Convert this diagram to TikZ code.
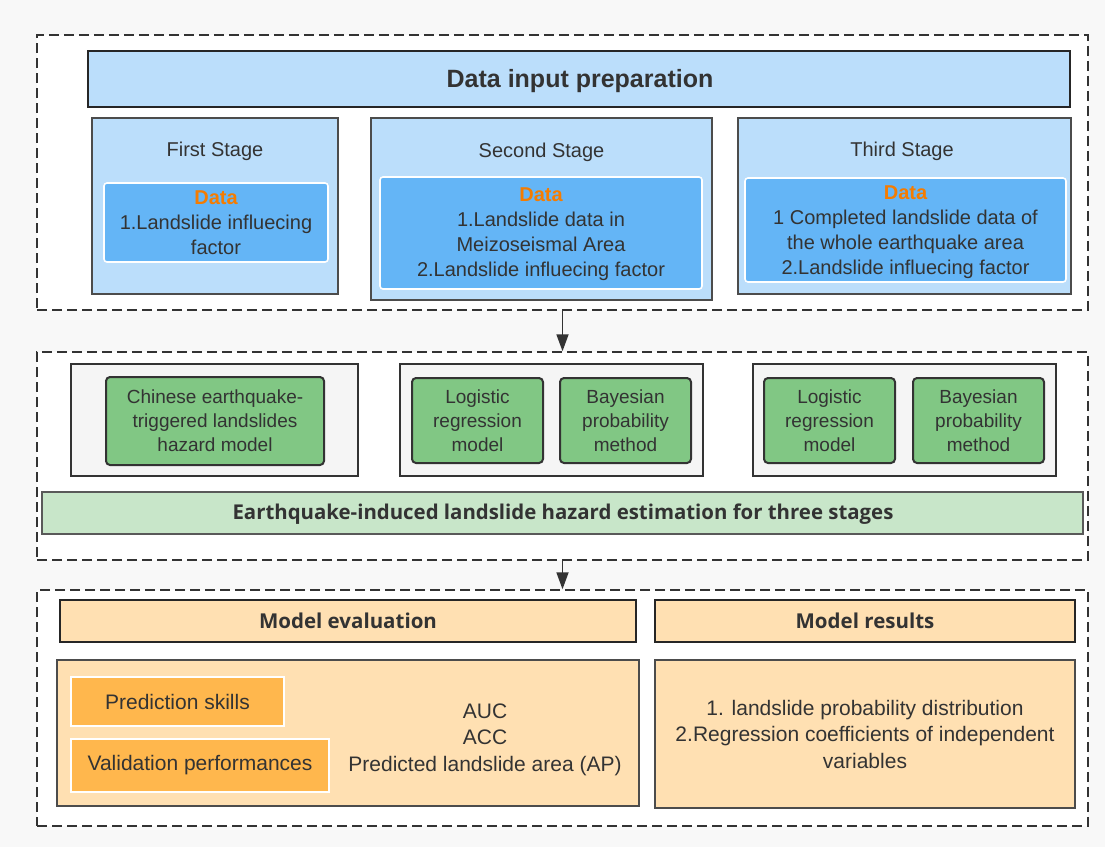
\documentclass[tikz,border=0pt]{standalone}
\usepackage{fontspec}
\setmainfont{Liberation Sans}
\newfontfamily\headfont{Open Sans}
\usetikzlibrary{arrows.meta}

\definecolor{txt}{HTML}{333333}
\definecolor{pagebg}{HTML}{F8F8F8}
\definecolor{lightblue}{HTML}{BBDEFB}
\definecolor{midblue}{HTML}{64B5F6}
\definecolor{datalabel}{HTML}{F57C00}
\definecolor{groupgray}{HTML}{F5F5F5}
\definecolor{modelgreen}{HTML}{81C784}
\definecolor{bannergreen}{HTML}{C8E6C9}
\definecolor{paleorange}{HTML}{FFE0B2}
\definecolor{deeporange}{HTML}{FFB74D}

\tikzset{
  base/.style={rectangle, inner sep=0pt, align=center, text=txt,
    font=\fontsize{20}{25}\selectfont},
  stagebox/.style={dashed, draw=txt, line width=1.5pt, fill=white,
    dash pattern=on 10pt off 5pt, inner sep=0pt},
  titlebox/.style={base, draw=black!85, line width=2.5pt, fill=lightblue,
    font=\fontsize{25}{30}\selectfont\bfseries},
  stagepanel/.style={base, draw=black!70, line width=1.6pt, fill=lightblue},
  databox/.style={base, draw=white, line width=1.6pt, fill=midblue,
    rounded corners=3pt},
  groupbox/.style={base, draw=black!80, line width=1.5pt, fill=groupgray},
  modelbox/.style={base, draw=black!80, line width=2pt, fill=modelgreen,
    rounded corners=4pt, font=\fontsize{19}{24}\selectfont},
  bannerbox/.style={base, draw=black!65, line width=1.5pt, fill=bannergreen,
    font=\headfont\fontsize{20.4}{24}\selectfont\bfseries},
  headbox/.style={base, draw=black!85, line width=2pt, fill=paleorange,
    font=\headfont\fontsize{20.5}{24}\selectfont\bfseries},
  bodybox/.style={base, draw=black!70, line width=1.6pt, fill=paleorange,
    font=\fontsize{21}{26.5}\selectfont},
  skillbox/.style={base, draw=white, line width=2pt, fill=deeporange,
    font=\fontsize{21}{26}\selectfont},
  plain/.style={base, font=\fontsize{21}{26.5}\selectfont},
  flow/.style={-{Triangle[length=17pt,width=12pt]}, draw=txt, line width=1.8pt},
}
\newcommand{\datahead}{{\bfseries\color{datalabel}Data}}

\begin{document}
\begin{tikzpicture}[x=1pt,y=-1pt]
  \fill[pagebg] (0,0) rectangle (1105,847);
  \useasboundingbox (0,0) rectangle (1105,847);

  % three dashed frames
  \node[stagebox, minimum width=1051pt, minimum height=275pt] (frameA) at (562.5,172.5) {};
  \node[stagebox, minimum width=1051pt, minimum height=208pt] (frameB) at (562.5,456) {};
  \node[stagebox, minimum width=1051pt, minimum height=236pt] (frameC) at (562.5,708) {};

  % data input preparation
  \node[titlebox, minimum width=982pt, minimum height=56pt] (title) at (579,79) {};
  \node[base, font=\fontsize{25}{30}\selectfont\bfseries] (titlet) at (580,81) {Data input preparation};

  \node[stagepanel, minimum width=246pt, minimum height=176pt] (s1) at (215,206) {};
  \node[base] (s1t) at (215,151) {First Stage};
  \node[databox, minimum width=224pt, minimum height=79pt] (d1) at (216,222.5) {};
  \node[base] (d1t) at (216,223)
    {\datahead\\1.Landslide influecing\\factor};

  \node[stagepanel, minimum width=341pt, minimum height=182pt] (s2) at (541.5,209) {};
  \node[base] (s2t) at (541.5,152) {Second Stage};
  \node[databox, minimum width=322pt, minimum height=112pt] (d2) at (541,233) {};
  \node[base] (d2t) at (541,234.5)
    {\datahead\\1.Landslide data in\\Meizoseismal Area\\2.Landslide influecing factor};

  \node[stagepanel, minimum width=333pt, minimum height=176pt] (s3) at (904.5,206) {};
  \node[base] (s3t) at (902,151) {Third Stage};
  \node[databox, minimum width=321pt, minimum height=104pt] (d3) at (905.5,230) {};
  \node[base] (d3t) at (905.5,232.5)
    {\datahead\\1 Completed landslide data of\\the whole earthquake area\\2.Landslide influecing factor};

  % hazard models
  \node[groupbox, minimum width=287pt, minimum height=112pt] (g1) at (214.5,420) {};
  \node[modelbox, minimum width=218pt, minimum height=88pt] (m1) at (215,421)
    {Chinese earthquake-\\triggered landslides\\hazard model};

  \node[groupbox, minimum width=303pt, minimum height=112pt] (g2) at (551.5,420) {};
  \node[modelbox, minimum width=131pt, minimum height=85pt] (m2) at (477.5,420.5)
    {Logistic\\regression\\model};
  \node[modelbox, minimum width=131pt, minimum height=85pt] (m3) at (625.5,420.5)
    {Bayesian\\probability\\method};

  \node[groupbox, minimum width=303pt, minimum height=112pt] (g3) at (904.5,420) {};
  \node[modelbox, minimum width=131pt, minimum height=85pt] (m4) at (829.5,420.5)
    {Logistic\\regression\\model};
  \node[modelbox, minimum width=131pt, minimum height=85pt] (m5) at (978.5,420.5)
    {Bayesian\\probability\\method};

  \node[bannerbox, minimum width=1041pt, minimum height=42pt] (banner) at (562.5,513) {};
  \node[base, font=\headfont\fontsize{20.4}{24}\selectfont\bfseries] (bannert) at (563,514.5)
    {Earthquake-induced landslide hazard estimation for three stages};

  % evaluation and results
  \node[headbox, minimum width=576pt, minimum height=42pt] (h1) at (348,621) {Model evaluation};
  \node[bodybox, minimum width=582pt, minimum height=146pt] (b1) at (348,733) {};
  \node[skillbox, minimum width=213pt, minimum height=49pt] (p1) at (177.5,701.5) {Prediction skills};
  \node[skillbox, minimum width=258pt, minimum height=53pt] (p2) at (200,765.5) {Validation performances};
  \node[plain] (metrics) at (485,739.5) {AUC\\ACC\\Predicted landslide area (AP)};

  \node[headbox, minimum width=420pt, minimum height=42pt] (h2) at (865,621) {Model results};
  \node[bodybox, minimum width=420pt, minimum height=148pt] (b2) at (865,734)
    {1. landslide probability distribution\\2.Regression coefficients of independent\\variables};

  % flow between frames
  \draw[flow] (frameA.south) -- (frameB.north);
  \draw[flow] (frameB.south) -- (frameC.north);
\end{tikzpicture}
\end{document}
